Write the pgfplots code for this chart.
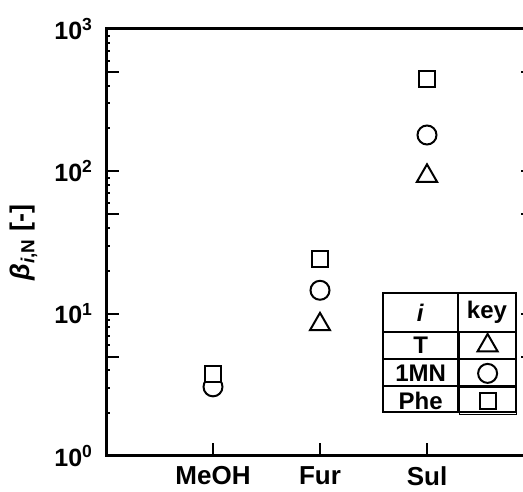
\documentclass[border=0pt]{standalone}
\usepackage{fontspec}
\setmainfont{Liberation Sans}
\usepackage{pgfplots}
\pgfplotsset{compat=1.18}
\begin{document}
\begin{tikzpicture}
\path[use as bounding box] (-53pt,-17.5pt) rectangle (208.5pt,228pt);
\clip (-53pt,-17.5pt) rectangle (208.5pt,228pt);
\begin{axis}[
  at={(0pt,0pt)}, anchor=south west,
  scale only axis, width=214pt, height=213.5pt,
  ymode=log, ymin=1, ymax=1000,
  xmin=0, xmax=4,
  xtick={1,2,3}, xticklabels={MeOH,Fur,Sul},
  xtick pos=bottom,
  ytick={1,10,100,1000},
  yticklabels={10\textsuperscript{0},10\textsuperscript{1},10\textsuperscript{2},10\textsuperscript{3}},
  ytick pos=both,
  extra y ticks={5,50,500},
  extra y tick labels={},
  extra y tick style={major tick length=6.5pt},
  major tick length=6.5pt, minor tick length=2pt,
  tick style={line width=1pt, black},
  axis line style={line width=1.5pt},
  xticklabel style={font=\fontsize{13}{15}\selectfont\bfseries, yshift=-4pt, inner ysep=1pt},
  yticklabel style={font=\fontsize{12.5}{14}\selectfont\bfseries, xshift=-3pt},
  ylabel={\textit{β}\textsubscript{\textit{i},N} [-]},
  ylabel style={font=\fontsize{13.5}{15}\selectfont\bfseries, at={(axis description cs:-0.192,0.5)}, anchor=center},
  legend plot pos=right,
  legend image code/.code={\path (0pt,-6.75pt) rectangle (28.5pt,6.75pt); \draw[#1] plot coordinates {(14.25pt,0pt)};},
  legend style={at={(axis description cs:0.6465,0.2911)}, anchor=north west,
    draw=none, fill=none, inner sep=0pt, outer sep=0pt,
    column sep=0pt, row sep=0pt,
    font=\fontsize{12}{14}\selectfont\bfseries,
    nodes={inner sep=0pt, text depth=0pt}},
]
\addplot[only marks, mark=triangle, mark size=5.8pt, mark options={line width=1pt, draw=black, fill=white}]
  coordinates {(2,8.4) (3,92.8)};
\addlegendentry{\makebox[38pt]{T}}
\addplot[only marks, mark=o, mark size=4.75pt, mark options={line width=1pt, draw=black, fill=white}]
  coordinates {(1,3.06) (2,14.6) (3,180)};
\addlegendentry{\makebox[38pt]{1MN}}
\addplot[only marks, mark=square*, mark size=4.0pt, mark options={line width=1pt, draw=black, fill=white}]
  coordinates {(1,3.78) (2,24.3) (3,447)};
\addlegendentry{\makebox[38pt]{Phe}}
\end{axis}
\draw[line width=1pt] (138.35pt,21.85pt) rectangle (204.85pt,81.35pt);
\draw[line width=1pt] (138.35pt,62.15pt) -- (204.85pt,62.15pt);
\draw[line width=1pt] (138.35pt,48.5pt) -- (204.85pt,48.5pt);
\draw[line width=1pt] (138.35pt,35.15pt) -- (204.85pt,35.15pt);
\draw[line width=1pt] (176.15pt,21.85pt) -- (176.15pt,81.35pt);
\node[font=\fontsize{12}{14}\selectfont\bfseries] at (157.25pt,71.75pt) {\textit{i}};
\node[font=\fontsize{12}{14}\selectfont\bfseries] at (190.5pt,71.75pt) {key};
\end{tikzpicture}
\end{document}
